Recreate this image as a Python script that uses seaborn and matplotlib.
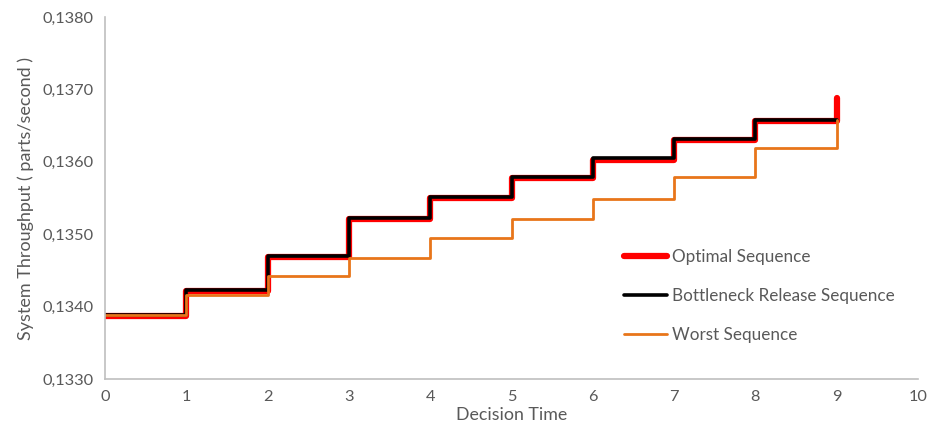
import numpy as np
import pandas as pd
import matplotlib
matplotlib.use("Agg")
import matplotlib.pyplot as plt
import seaborn as sns
from matplotlib.ticker import FuncFormatter, MultipleLocator

# decision times and throughput after each decision (step values)
decision_time = [0, 1, 2, 3, 4, 5, 6, 7, 8, 9]
optimal = [0.13387, 0.13421, 0.13468, 0.13521, 0.13550, 0.13577, 0.13603, 0.13630, 0.13656, 0.13688]
bottleneck = [0.13388, 0.13423, 0.13470, 0.13523, 0.13551, 0.13579, 0.13605, 0.13632, 0.13658, 0.13658]
worst = [0.13388, 0.13416, 0.13442, 0.13467, 0.13495, 0.13521, 0.13549, 0.13579, 0.13619, 0.13658]

series_names = ["Optimal Sequence", "Bottleneck Release Sequence", "Worst Sequence"]
colors = ["#FF0000", "#000000", "#E8751A"]
widths = [4.5, 2.6, 2.0]

sns.set_style("white")
plt.rcParams['font.family'] = ['Lato', 'DejaVu Sans']

fig, ax = plt.subplots(figsize=(9.32, 4.36), dpi=100)
fig.subplots_adjust(left=0.1127, right=0.985, bottom=0.1307, top=0.961)

for name, vals, c, lw in zip(series_names, [optimal, bottleneck, worst], colors, widths):
    df = pd.DataFrame({"t": decision_time, "y": vals})
    sns.lineplot(data=df, x="t", y="y", ax=ax, color=c, linewidth=lw,
                 drawstyle="steps-post", label=name, solid_capstyle="round")

ax.set_xlim(0, 10)
ax.set_ylim(0.1330, 0.1380)
ax.xaxis.set_major_locator(MultipleLocator(1))
ax.yaxis.set_major_locator(MultipleLocator(0.001))
ax.yaxis.set_major_formatter(FuncFormatter(lambda v, p: f"{v:.4f}".replace(".", ",")))

gray = "#595959"
ax.tick_params(axis="both", length=0, labelsize=11.8, labelcolor=gray, pad=8)
for s in ["top", "right"]:
    ax.spines[s].set_visible(False)
for s in ["left", "bottom"]:
    ax.spines[s].set_color("#BFBFBF")
    ax.spines[s].set_linewidth(1.2)

ax.set_xlabel("Decision Time", fontsize=12.8, color=gray, labelpad=2)
ax.set_ylabel("System Throughput ( parts/second )", fontsize=13, color=gray, labelpad=6)

leg = ax.legend(loc="center left", bbox_to_anchor=(0.62, 0.229),
                frameon=False, fontsize=12.3, labelspacing=1.35, handlelength=2.5,
                handletextpad=0.3)
for t in leg.get_texts():
    t.set_color(gray)

fig.savefig("out.png", dpi=100)
